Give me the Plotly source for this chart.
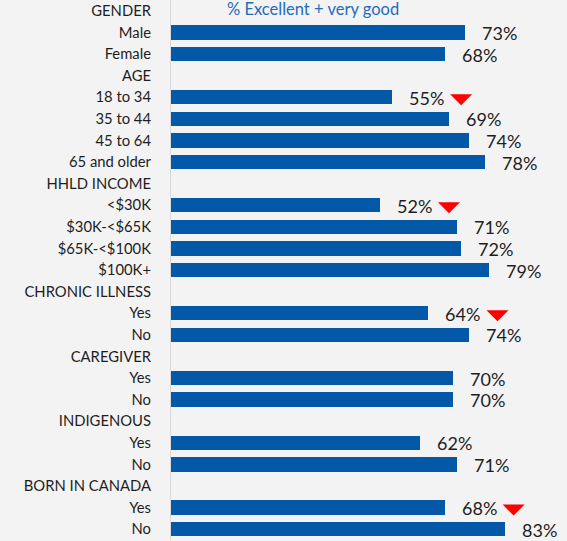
import plotly.graph_objects as go

# Row labels (section headers carry no value)
labels = [
    "GENDER", "Male", "Female",
    "AGE", "18 to 34", "35 to 44", "45 to 64", "65 and older",
    "HHLD INCOME", "<$30K", "$30K-<$65K", "$65K-<$100K", "$100K+",
    "CHRONIC ILLNESS", "Yes", "No",
    "CAREGIVER", "Yes", "No",
    "INDIGENOUS", "Yes", "No",
    "BORN IN CANADA", "Yes", "No",
]
values = [
    None, 73, 68,
    None, 55, 69, 74, 78,
    None, 52, 71, 72, 79,
    None, 64, 74,
    None, 70, 70,
    None, 62, 71,
    None, 68, 83,
]
# Rows marked as significantly lower
flagged = [
    False, False, False,
    False, True, False, False, False,
    False, True, False, False, False,
    False, True, False,
    False, False, False,
    False, False, False,
    False, True, False,
]
title_text = "% Excellent + very good"

BAR_COLOR = "#0458a8"
TEXT_COLOR = "#1e1e1e"
FONT = "Lato"

rows = list(range(len(labels)))
bar_rows = [r for r, v in zip(rows, values) if v is not None]
bar_vals = [v for v in values if v is not None]

fig = go.Figure()
fig.add_trace(go.Bar(
    x=bar_vals, y=bar_rows, orientation="h",
    marker=dict(color=BAR_COLOR, line=dict(width=0)),
    width=0.66, hoverinfo="x",
))

annotations = []
shapes = []
for r, v, f in zip(rows, values, flagged):
    if v is None:
        continue
    annotations.append(dict(
        x=v, y=r, xref="x", yref="y", text=f"{v}%", showarrow=False,
        xanchor="left", yanchor="middle", xshift=15, yshift=-0.5,
        font=dict(family=FONT, size=18, color=TEXT_COLOR),
    ))
    if f:
        shapes.append(dict(
            type="path", xref="x", yref="y",
            xsizemode="pixel", ysizemode="pixel",
            xanchor=v, yanchor=r,
            path="M 58 3 L 80 3 L 69 -8 Z",
            fillcolor="#ff0000", line=dict(width=0),
        ))

annotations.append(dict(
    x=0.139, y=0, xref="paper", yref="y", text=title_text, showarrow=False,
    xanchor="left", yanchor="middle", yshift=2,
    font=dict(family=FONT, size=16.5, color="#1f6bbf"),
))

# vertical axis line
shapes.append(dict(
    type="line", xref="x", yref="paper", x0=0, x1=0, y0=0, y1=1,
    line=dict(color="#d9d9d9", width=2),
))

fig.update_layout(
    width=567, height=541,
    margin=dict(l=170, r=0, t=0, b=1),
    paper_bgcolor="#f3f3f3", plot_bgcolor="#f3f3f3",
    showlegend=False, bargap=0,
    annotations=annotations, shapes=shapes,
    xaxis=dict(range=[0, 98.3], visible=False, fixedrange=True),
    yaxis=dict(
        range=[len(labels) - 0.5, -0.5],
        tickmode="array", tickvals=rows, ticktext=labels,
        showgrid=False, zeroline=False, showline=False, ticks="",
        ticklabelstandoff=18,
        tickfont=dict(family=FONT, size=14.8, color=TEXT_COLOR),
        fixedrange=True,
    ),
)

fig.write_html("out.html")
